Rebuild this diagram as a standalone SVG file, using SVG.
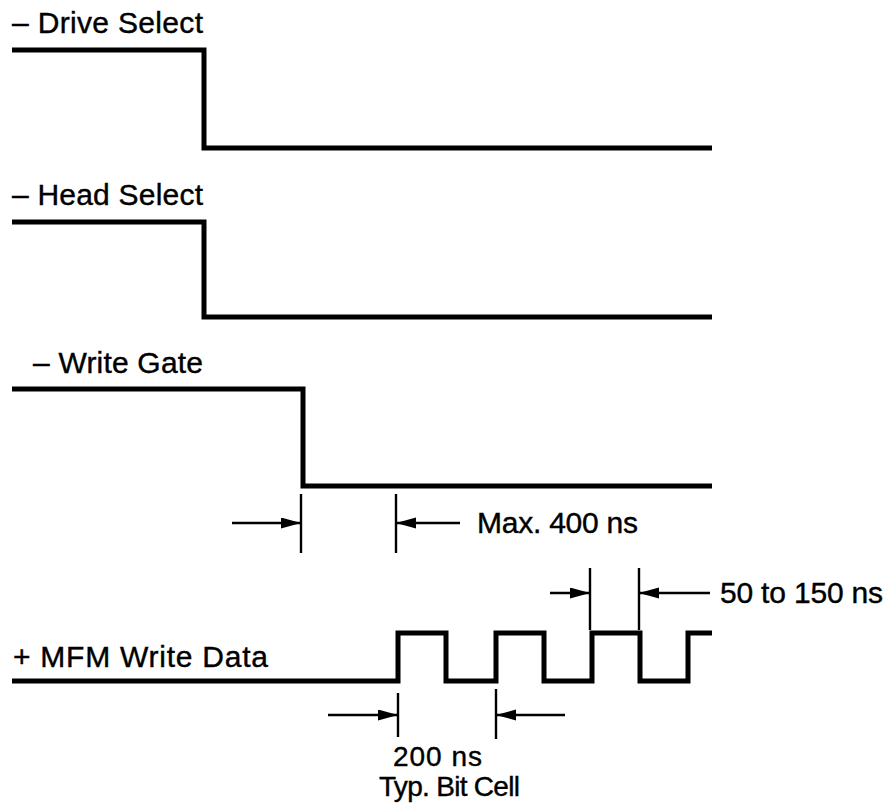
<svg xmlns="http://www.w3.org/2000/svg" width="890" height="806" viewBox="0 0 890 806">
  <style>
    .sig { fill: none; stroke: #000; stroke-width: 5; stroke-linejoin: miter; stroke-linecap: butt; }
    .dim { fill: none; stroke: #000; stroke-width: 2.4; }
    .arr { fill: none; stroke: #000; stroke-width: 2.4; marker-end: url(#ah); }
    .lbl { font-family: "Liberation Sans", Arial, Helvetica, sans-serif; font-size: 30px; fill: #000; stroke: #000; stroke-width: 0.4; }
    .sm { font-size: 28px; }
  </style>
  <defs>
    <marker id="ah" markerUnits="userSpaceOnUse" markerWidth="22" markerHeight="12" refX="20" refY="5.5" orient="auto">
      <path d="M0,0 L20,5.5 L0,11 z" fill="#000" stroke="none"/>
    </marker>
  </defs>
  <rect width="890" height="806" fill="#fff"/>

  <g id="drive-select">
    <text class="lbl" x="12" y="33" textLength="191" lengthAdjust="spacing">– Drive Select</text>
    <path class="sig" d="M12 50 H204 V148 H712"/>
  </g>

  <g id="head-select">
    <text class="lbl" x="12" y="205" textLength="191" lengthAdjust="spacing">– Head Select</text>
    <path class="sig" d="M12 222 H204 V317 H712"/>
  </g>

  <g id="write-gate">
    <text class="lbl" x="33" y="373" textLength="170" lengthAdjust="spacing">– Write Gate</text>
    <path class="sig" d="M12 389 H303 V486 H712"/>
  </g>

  <g id="mfm-write-data">
    <text class="lbl" x="13" y="667" textLength="255" lengthAdjust="spacing">+ MFM Write Data</text>
    <path class="sig" d="M12 681 H398 V633 H446 V681 H496 V633 H544 V681 H592 V633 H640 V681 H688 V633 H712"/>
  </g>

  <g id="connectors">
    <!-- Max. 400 ns -->
    <line class="dim" x1="301" y1="494" x2="301" y2="553"/>
    <line class="dim" x1="396" y1="494" x2="396" y2="553"/>
    <line class="arr" x1="232" y1="523" x2="301" y2="523"/>
    <line class="arr" x1="460" y1="523" x2="396" y2="523"/>
    <!-- 50 to 150 ns -->
    <line class="dim" x1="590" y1="568" x2="590" y2="630"/>
    <line class="dim" x1="639" y1="568" x2="639" y2="630"/>
    <line class="arr" x1="550" y1="593" x2="590" y2="593"/>
    <line class="arr" x1="710" y1="593" x2="639" y2="593"/>
    <!-- 200 ns bit cell -->
    <line class="dim" x1="398" y1="693" x2="398" y2="737"/>
    <line class="dim" x1="496" y1="689" x2="496" y2="739"/>
    <line class="arr" x1="328" y1="715" x2="398" y2="715"/>
    <line class="arr" x1="565" y1="715" x2="496" y2="715"/>
  </g>

  <g id="labels">
    <text class="lbl" x="477" y="533" textLength="161" lengthAdjust="spacing">Max. 400 ns</text>
    <text class="lbl" x="720" y="603" textLength="163" lengthAdjust="spacing">50 to 150 ns</text>
    <text class="lbl sm" x="393" y="766" textLength="89" lengthAdjust="spacing">200 ns</text>
    <text class="lbl sm" x="379" y="796" textLength="141" lengthAdjust="spacing">Typ. Bit Cell</text>
  </g>
</svg>
